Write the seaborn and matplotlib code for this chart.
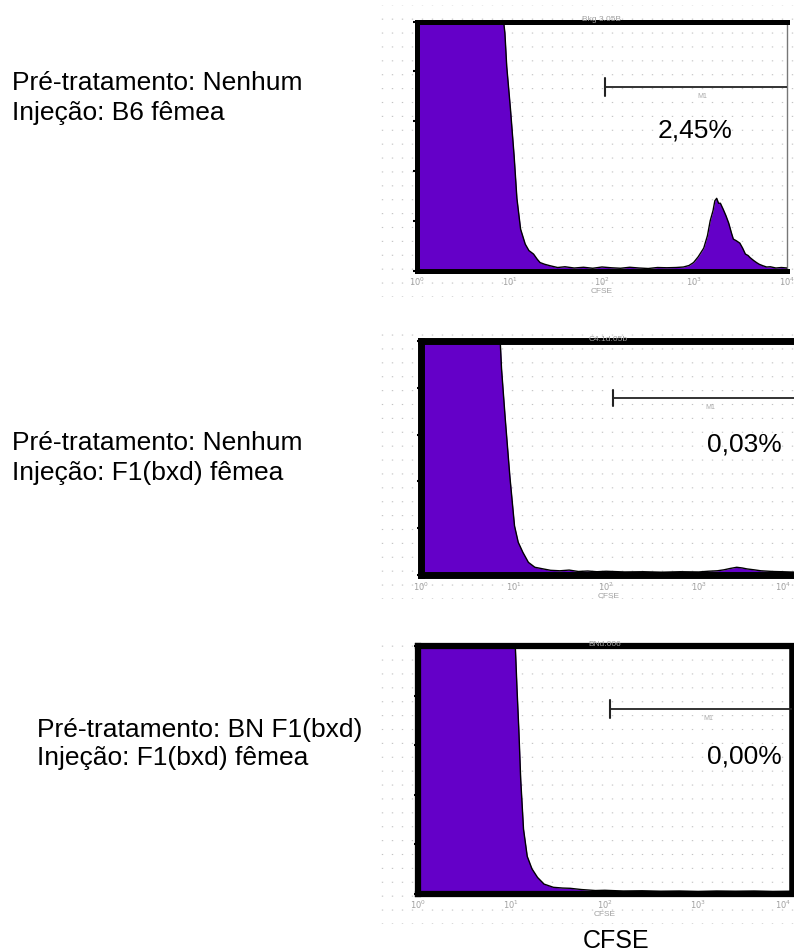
import numpy as np
import matplotlib
matplotlib.use("Agg")
import matplotlib.pyplot as plt
from matplotlib.ticker import NullLocator, FixedLocator
import seaborn as sns

# ---------------- data ----------------
pretreatment = ["Pré-tratamento: Nenhum", "Pré-tratamento: Nenhum", "Pré-tratamento: BN F1(bxd)"]
injection = ["Injeção: B6 fêmea", "Injeção: F1(bxd) fêmea", "Injeção: F1(bxd) fêmea"]
percent_labels = ["2,45%", "0,03%", "0,00%"]
panel_titles = ["Bkg 3.05B", "C4.1d.05b", "BNd.006"]
tick_labels = ["$10^0$", "$10^1$", "$10^2$", "$10^3$", "$10^4$"]
tick_values = [1, 10, 100, 1000, 10000]

# histogram outlines: log10(CFSE) positions and relative count (fraction of axis height)
log_cfse_top = [0.0, 0.93, 0.95, 0.97, 1.01, 1.05, 1.08, 1.12, 1.17, 1.21,
                1.26, 1.30, 1.33, 1.38, 1.44, 1.52, 1.60, 1.70, 1.80, 1.90,
                2.00, 2.10, 2.20, 2.30, 2.40, 2.50, 2.60, 2.70, 2.80, 2.88,
                2.94, 2.99, 3.04, 3.10, 3.14, 3.17, 3.20, 3.22, 3.24, 3.26,
                3.28, 3.31, 3.34, 3.37, 3.40, 3.42, 3.45, 3.49, 3.52, 3.55,
                3.58, 3.60, 3.64, 3.67, 3.70, 3.74, 3.78, 3.82, 3.88, 3.94, 4.0]
count_top = [1.5, 1.02, 0.955, 0.82, 0.65, 0.46, 0.29, 0.166, 0.106, 0.08,
             0.066, 0.045, 0.032, 0.025, 0.019, 0.012, 0.015, 0.010, 0.013, 0.009,
             0.014, 0.011, 0.009, 0.013, 0.010, 0.008, 0.012, 0.011, 0.012, 0.014,
             0.020, 0.032, 0.055, 0.09, 0.14, 0.20, 0.24, 0.28, 0.29, 0.27,
             0.27, 0.246, 0.22, 0.19, 0.15, 0.126, 0.12, 0.11, 0.09, 0.066,
             0.06, 0.052, 0.04, 0.032, 0.025, 0.019, 0.014, 0.015, 0.010, 0.012, 0.010]

log_cfse_mid = [0.0, 0.853, 0.87, 0.91, 0.96, 1.01, 1.05, 1.10, 1.16, 1.23,
                1.32, 1.40, 1.50, 1.60, 1.70, 1.80, 1.90, 2.00, 2.20, 2.40,
                2.60, 2.80, 3.00, 3.10, 3.20, 3.27, 3.34, 3.41, 3.47, 3.52,
                3.60, 3.67, 3.80, 3.90, 4.05]
count_mid = [1.5, 1.02, 0.88, 0.667, 0.42, 0.21, 0.14, 0.097, 0.054, 0.033,
             0.026, 0.02, 0.018, 0.021, 0.015, 0.017, 0.014, 0.016, 0.013, 0.014,
             0.012, 0.014, 0.013, 0.016, 0.018, 0.022, 0.028, 0.033, 0.030, 0.026,
             0.022, 0.018, 0.015, 0.014, 0.012]

log_cfse_bot = [0.0, 1.04, 1.06, 1.08, 1.10, 1.13, 1.17, 1.22, 1.28, 1.35,
                1.45, 1.55, 1.63, 1.75, 1.90, 2.00, 2.20, 2.40, 2.60, 2.80,
                3.00, 3.20, 3.40, 3.60, 3.80, 4.0]
count_bot = [1.5, 1.02, 0.83, 0.66, 0.46, 0.26, 0.15, 0.10, 0.065, 0.038,
             0.025, 0.022, 0.021, 0.016, 0.012, 0.013, 0.010, 0.011, 0.009, 0.010,
             0.008, 0.010, 0.009, 0.010, 0.008, 0.009]

gate_start_log = [2.03, 2.07, 2.06]
gate_level = [0.737, 0.756, 0.745]
x_max_log = [4.0, 4.05, 4.0]

# ---------------- styling / layout ----------------
sns.set_theme(style="white")
plt.rcParams["font.family"] = ["Liberation Sans", "DejaVu Sans"]

W, H = 794, 953
fig = plt.figure(figsize=(W / 100, H / 100), dpi=100)
fig.patch.set_facecolor("white")


def rect(x0, x1, y0, y1):
    return [x0 / W, 1 - y1 / H, (x1 - x0) / W, (y1 - y0) / H]


bg_regions = [(378, 794, 6, 298), (378, 794, 328, 600), (378, 794, 636, 925)]
ax_regions = [(417, 787, 22.5, 271.5), (421, 796, 342, 576), (418, 791.5, 647, 894.5)]
spine_w = [dict(left=3.6, bottom=3.6, top=3.6, right=1.0),
           dict(left=5.0, bottom=5.0, top=5.0, right=5.0),
           dict(left=4.5, bottom=4.5, top=4.5, right=4.0)]
left_text_x = [12, 12, 37]
left_baselines = [(90, 120), (450, 480), (737, 765)]
pct_pos = [(0.751, 0.54), (0.863, 0.534), (0.874, 0.531)]

series = [(log_cfse_top, count_top), (log_cfse_mid, count_mid), (log_cfse_bot, count_bot)]
fill_color = "#6400C8"

for i in range(3):
    # dotted background (imitates the cytometer plot area)
    bx0, bx1, by0, by1 = bg_regions[i]
    bg = fig.add_axes(rect(bx0, bx1, by0, by1), zorder=0)
    bg.set_xlim(0, bx1 - bx0)
    bg.set_ylim(0, by1 - by0)
    bg.xaxis.set_major_locator(FixedLocator(np.arange(4, bx1 - bx0, 10)))
    bg.grid(axis="x", color="#c4c4c4", linewidth=1.0, linestyle=(0, (0.8, 9.2)))
    bg.grid(axis="y", visible=False)
    bg.tick_params(left=False, bottom=False, labelleft=False, labelbottom=False)
    for s in bg.spines.values():
        s.set_visible(False)
    bg.set_facecolor("white")

    # main histogram axes
    ax = fig.add_axes(rect(*ax_regions[i]), zorder=1)
    ax.set_facecolor("none")
    xs = 10 ** np.array(series[i][0])
    ys = np.array(series[i][1])
    ax.fill_between(xs, ys, 0, color=fill_color, linewidth=0, zorder=2)
    sns.lineplot(x=xs, y=ys, ax=ax, color="black", linewidth=1.0, sort=False,
                 estimator=None, zorder=3)
    ax.set_xscale("log")
    ax.set_xlim(1, 10 ** x_max_log[i])
    ax.set_ylim(0, 1)

    # gate marker M1
    g0 = 10 ** gate_start_log[i]
    ax.plot([g0, 10 ** x_max_log[i]], [gate_level[i], gate_level[i]], color="#222222",
            linewidth=1.3, zorder=4, clip_on=True)
    ax.plot([g0, g0], [gate_level[i] - 0.035, gate_level[i] + 0.035], color="#222222",
            linewidth=1.5, zorder=4)
    ax.text(10 ** (gate_start_log[i] + 1.05), gate_level[i] - 0.035, "M1", fontsize=5,
            color="#aaaaaa", ha="center", va="center")

    # percentage
    ax.text(pct_pos[i][0], pct_pos[i][1], percent_labels[i], transform=ax.transAxes,
            fontsize=19, ha="center", va="baseline", color="black")

    # axes cosmetics
    ax.xaxis.set_major_locator(FixedLocator(tick_values))
    ax.xaxis.set_minor_locator(NullLocator())
    ax.set_xticklabels(tick_labels)
    ax.tick_params(axis="x", bottom=True, length=0, pad=3, labelsize=6, labelcolor="#a0a0a0")
    if i > 0:
        ax.get_xticklabels()[-1].set_horizontalalignment("right")
    ax.yaxis.set_major_locator(FixedLocator([0, 0.2, 0.4, 0.6, 0.8, 1.0]))
    ax.tick_params(axis="y", left=True, length=3, width=1.5, color="black",
                   labelleft=False, direction="out")
    ax.set_xlabel("CFSE", fontsize=6, color="#a0a0a0", labelpad=0)
    ax.set_ylabel("")
    ax.set_title(panel_titles[i], fontsize=6, color="#a0a0a0", pad=1)
    for side, w in spine_w[i].items():
        ax.spines[side].set_visible(True)
        ax.spines[side].set_linewidth(w)
        ax.spines[side].set_color("black" if side != "right" or i > 0 else "#777777")
    ax.grid(False)

    # left-hand description
    fig.text(left_text_x[i] / W, 1 - left_baselines[i][0] / H, pretreatment[i],
             fontsize=19, ha="left", va="baseline", color="black")
    fig.text(left_text_x[i] / W, 1 - left_baselines[i][1] / H, injection[i],
             fontsize=19, ha="left", va="baseline", color="black")

fig.text(616 / W, 1 - 948 / H, "CFSE", fontsize=18, ha="center", va="baseline", color="black")

fig.savefig("out.png", dpi=100, facecolor="white")
